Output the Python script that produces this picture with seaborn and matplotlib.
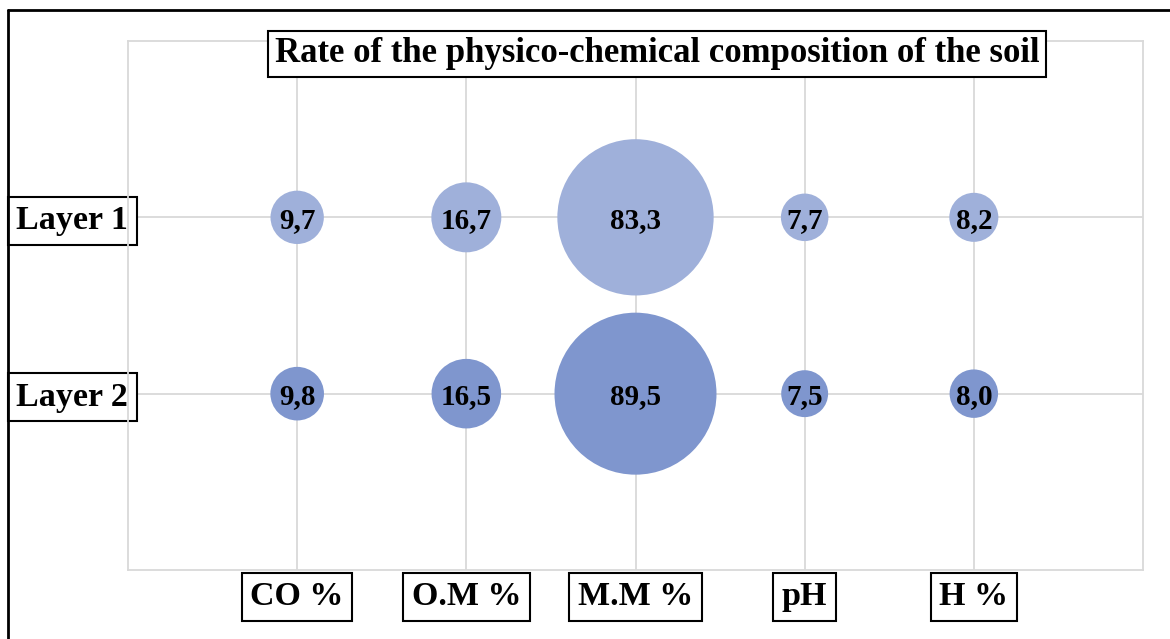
import pandas as pd
import matplotlib.pyplot as plt
import seaborn as sns
from matplotlib.lines import Line2D

# data
params = ["CO %", "O.M %", "M.M %", "pH", "H %"]
layers = ["Layer 1", "Layer 2"]
layer1 = [9.7, 16.7, 83.3, 7.7, 8.2]
layer2 = [9.8, 16.5, 89.5, 7.5, 8.0]
title = "Rate of the physico-chemical composition of the soil"

layer_colors = {"Layer 1": "#9FB0DA", "Layer 2": "#7F96CE"}
layer_y = {"Layer 1": 2, "Layer 2": 1}

rows = []
for layer, vals in zip(layers, [layer1, layer2]):
    for i, (p, v) in enumerate(zip(params, vals)):
        rows.append({"param": p, "x": i + 1, "layer": layer, "y": layer_y[layer], "value": v})
df = pd.DataFrame(rows)

sns.set_theme(style="white")
plt.rcParams['font.family'] = ['Liberation Serif', 'DejaVu Serif']

fig = plt.figure(figsize=(11.7, 6.39), dpi=100)
ax = fig.add_axes([128 / 1170, 1 - 570 / 639, (1143 - 128) / 1170, (570 - 41) / 639])

# bubble area proportional to value
vmin, vmax = df["value"].min(), df["value"].max()
k = 152
sns.scatterplot(data=df, x="x", y="y", hue="layer", palette=layer_colors,
                size="value", sizes=(k * vmin, k * vmax), size_norm=(vmin, vmax),
                linewidth=0, alpha=1, legend=False, ax=ax, zorder=3)

for _, r in df.iterrows():
    ax.text(r["x"], r["y"], f"{r['value']:.1f}".replace(".", ","), ha="center",
            va="center_baseline", fontsize=21, fontweight="bold", color="black", zorder=4)

ax.set_xlim(0, 6)
ax.set_ylim(0, 3)
ax.set_xticks(range(1, 6))
ax.set_xticklabels(params)
ax.set_yticks([layer_y[l] for l in layers])
ax.set_yticklabels(layers)
ax.set_xlabel("")
ax.set_ylabel("")
ax.grid(True, color="#D9D9D9", linewidth=1.3)
ax.set_axisbelow(True)
for s in ax.spines.values():
    s.set_color("#D9D9D9")
    s.set_linewidth(1.3)

box = dict(boxstyle="square,pad=0.25", facecolor="white", edgecolor="black", linewidth=1.5)
ax.tick_params(axis="both", length=0, labelsize=24.5, labelcolor="black")
ax.tick_params(axis="x", pad=8)
ax.tick_params(axis="y", pad=0)
for lab in ax.get_xticklabels() + ax.get_yticklabels():
    lab.set_fontweight("bold")
    lab.set_bbox(box)
    lab.set_zorder(5)
    lab.set_clip_on(False)

fig.text(657 / 1170, 1 - 54 / 639, title, ha="center", va="center", fontsize=25,
         fontweight="bold", color="black",
         bbox=dict(boxstyle="square,pad=0.2", facecolor="white", edgecolor="black", linewidth=1.5),
         zorder=6)

# figure frame (top and left)
fig.add_artist(Line2D([8 / 1170, 1], [1 - 10 / 639, 1 - 10 / 639], color="black", linewidth=2))
fig.add_artist(Line2D([8 / 1170, 8 / 1170], [0, 1 - 10 / 639], color="black", linewidth=2))

fig.savefig("out.png", dpi=100)
